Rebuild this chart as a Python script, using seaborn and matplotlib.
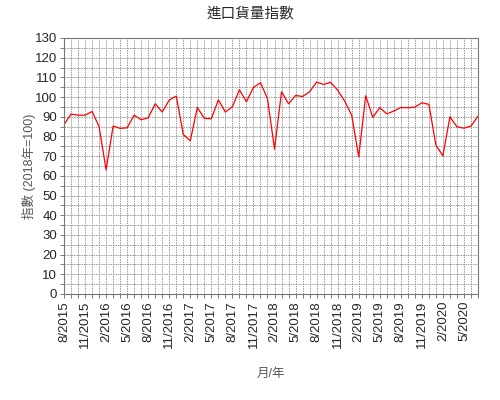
import numpy as np
import pandas as pd
import matplotlib
matplotlib.use('Agg')
import matplotlib.pyplot as plt
import seaborn as sns
from matplotlib.ticker import MultipleLocator

# monthly import volume index, 8/2015 .. 7/2020
index_values = [86, 91.4, 90.8, 90.8, 92.7, 85, 63, 85.3, 84.1, 84.4,
                90.8, 88.5, 89.5, 96.6, 92.4, 98.5, 100.5, 81, 77.8, 94.7,
                89.2, 89, 98.6, 92.4, 95.1, 103.7, 97.6, 104.9, 107.3, 99.2,
                73.6, 102.7, 96.6, 100.8, 100.3, 102.7, 107.6, 106.4, 107.5, 103.5,
                98, 90.8, 69.7, 100.7, 89.7, 94.6, 91.5, 92.9, 94.7, 94.6,
                94.9, 97.1, 96.3, 75.6, 70.2, 90, 84.9, 84.2, 85.3, 90.3]
tick_labels = ['8/2015', '11/2015', '2/2016', '5/2016', '8/2016', '11/2016',
               '2/2017', '5/2017', '8/2017', '11/2017', '2/2018', '5/2018',
               '8/2018', '11/2018', '2/2019', '5/2019', '8/2019', '11/2019',
               '2/2020', '5/2020']

df = pd.DataFrame({'month': np.arange(len(index_values)), 'index': index_values})

sns.set_style('white')
plt.rcParams['font.family'] = ['Liberation Sans', 'Noto Sans CJK TC', 'DejaVu Sans']

fig = plt.figure(figsize=(5, 4), dpi=100)
ax = fig.add_axes([0.128, 0.265, 0.828, 0.64])

sns.lineplot(data=df, x='month', y='index', color='red', linewidth=0.9, ax=ax)

ax.set_xlim(0, len(index_values) - 1)
ax.set_ylim(0, 130)
ax.yaxis.set_major_locator(MultipleLocator(10))
ax.yaxis.set_minor_locator(MultipleLocator(5))
ax.xaxis.set_minor_locator(MultipleLocator(1))
ax.set_xticks(np.arange(0, len(index_values), 3)[:len(tick_labels)])
ax.set_xticklabels(tick_labels, rotation=90)

ax.grid(which='both', color='#999999', linestyle=(0, (1.5, 1)), linewidth=0.7)
ax.tick_params(which='both', direction='out', length=3, width=0.6, color='#666666',
               labelsize=9.5, pad=2, bottom=True, left=True)
for s in ax.spines.values():
    s.set_color('#777777')
    s.set_linestyle((0, (1.5, 1)))
    s.set_linewidth(0.8)

ax.set_xlabel('月/年', color='#555555', fontsize=9, labelpad=14)
ax.set_ylabel('指數 (2018年=100)', color='#555555', fontsize=9, labelpad=-1)
fig.suptitle('進口貨量指數', fontsize=10.5, y=0.985)

plt.savefig('out.png', dpi=100)
